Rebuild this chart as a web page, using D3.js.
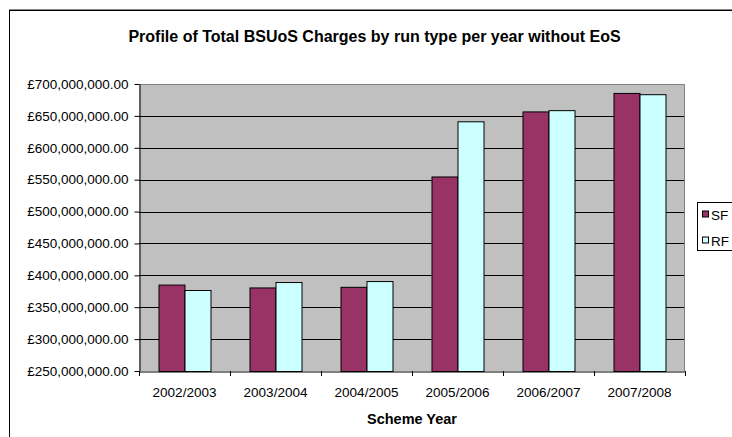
<!DOCTYPE html>
<html>
<head>
<meta charset="utf-8">
<script src="https://cdn.jsdelivr.net/npm/d3@7"></script>
<style>
  html, body { margin: 0; padding: 0; background: #fff; overflow: hidden; }
  svg { display: block; font-family: "Liberation Sans", Arial, sans-serif; }
</style>
</head>
<body>
<svg id="chart" width="732" height="437"></svg>
<script>
// Scheme years on the category axis
const years = ["2002/2003", "2003/2004", "2004/2005", "2005/2006", "2006/2007", "2007/2008"];
// Series names shown in the legend
const seriesNames = ["SF", "RF"];
// Total BSUoS charges (GBP) per run type
const sfValues = [385.5e6, 381e6, 382e6, 555e6, 657e6, 686e6];
const rfValues = [377e6, 389.5e6, 391e6, 641.5e6, 659e6, 684e6];
// Value axis ticks
const yTicks = [250e6, 300e6, 350e6, 400e6, 450e6, 500e6, 550e6, 600e6, 650e6, 700e6];

const seriesColors = ["#993366", "#CCFFFF"];
const series = [sfValues, rfValues];

const svg = d3.select("#chart");
const plot = { left: 139, right: 685, top: 84, bottom: 371 };

// Outer chart frame (left and top edges)
svg.append("rect")
  .attr("x", 9.5).attr("y", 10.5)
  .attr("width", 800).attr("height", 500)
  .attr("fill", "#fff").attr("stroke", "#000").attr("stroke-width", 1);
svg.append("line")
  .attr("x1", 9).attr("x2", 732).attr("y1", 9.5).attr("y2", 9.5)
  .attr("stroke", "#888").attr("stroke-width", 1);

// Title
svg.append("text")
  .attr("x", 374.5).attr("y", 42)
  .attr("text-anchor", "middle")
  .attr("font-size", "16px").attr("font-weight", "bold")
  .text("Profile of Total BSUoS Charges by run type per year without EoS");

const x = d3.scaleBand().domain(years).range([plot.left, plot.right]).padding(0);
const xInner = d3.scaleBand().domain(seriesNames).range([0, x.bandwidth()])
  .paddingInner(0).paddingOuter(0.75);
const y = d3.scaleLinear().domain([250e6, 700e6]).range([plot.bottom, plot.top]);

// Plot area background
svg.append("rect")
  .attr("x", plot.left).attr("y", plot.top)
  .attr("width", plot.right - plot.left).attr("height", plot.bottom - plot.top)
  .attr("fill", "#C0C0C0");

// Horizontal gridlines
svg.append("g").selectAll("line")
  .data(yTicks.slice(1, -1))
  .join("line")
  .attr("x1", plot.left).attr("x2", plot.right)
  .attr("y1", d => Math.round(y(d)) + 0.5).attr("y2", d => Math.round(y(d)) + 0.5)
  .attr("stroke", "#000").attr("stroke-width", 1);

// Plot area border (top and right)
svg.append("path")
  .attr("d", `M${plot.left},${plot.top + 0.5}H${plot.right - 0.5}V${plot.bottom}`)
  .attr("fill", "none").attr("stroke", "#808080").attr("stroke-width", 1);

// Bars
const groups = svg.append("g").selectAll("g")
  .data(years)
  .join("g")
  .attr("transform", d => `translate(${x(d)},0)`);

groups.selectAll("rect")
  .data((d, i) => seriesNames.map((s, k) => ({ s, v: series[k][i], k })))
  .join("rect")
  .attr("x", d => xInner(d.s) + 0.5)
  .attr("width", xInner.bandwidth())
  .attr("y", d => y(d.v) + 0.5)
  .attr("height", d => plot.bottom - y(d.v))
  .attr("fill", d => seriesColors[d.k])
  .attr("stroke", "#000").attr("stroke-width", 1);

// Value axis
const fmt = v => "£" + d3.format(",.2f")(v);
svg.append("g")
  .attr("transform", `translate(${plot.left + 0.5},0)`)
  .call(d3.axisLeft(y).tickValues(yTicks).tickFormat(fmt).tickSize(5).tickPadding(6).tickSizeOuter(0))
  .call(g => g.selectAll("text").attr("font-size", "13.5px").attr("font-family", "inherit").attr("fill", "#000"))
  .call(g => g.selectAll("line, path").attr("stroke", "#000"));

// Category axis
svg.append("g")
  .attr("transform", `translate(0,${plot.bottom + 0.5})`)
  .call(d3.axisBottom(x).tickSize(0).tickPadding(16).tickSizeOuter(0))
  .call(g => g.selectAll("text").attr("font-size", "13.5px").attr("font-family", "inherit").attr("fill", "#000"))
  .call(g => g.select(".domain").attr("stroke", "#000"));

// Tick marks on category boundaries
svg.append("g").selectAll("line")
  .data(years.concat(["end"]))
  .join("line")
  .attr("x1", (d, i) => Math.round(plot.left + i * x.step()) + 0.5)
  .attr("x2", (d, i) => Math.round(plot.left + i * x.step()) + 0.5)
  .attr("y1", plot.bottom).attr("y2", plot.bottom + 5)
  .attr("stroke", "#000");

// Axis title
svg.append("text")
  .attr("x", (plot.left + plot.right) / 2).attr("y", 423.5)
  .attr("text-anchor", "middle")
  .attr("font-size", "14.5px").attr("font-weight", "bold")
  .text("Scheme Year");

// Legend
const legend = svg.append("g").attr("transform", "translate(697.5,202.5)");
legend.append("rect")
  .attr("width", 60).attr("height", 48)
  .attr("fill", "#fff").attr("stroke", "#000");
const items = legend.selectAll("g.item")
  .data(seriesNames)
  .join("g").attr("class", "item")
  .attr("transform", (d, i) => `translate(5,${8.5 + i * 26})`);
items.append("rect")
  .attr("width", 6).attr("height", 6)
  .attr("fill", (d, i) => seriesColors[i]).attr("stroke", "#000");
items.append("text")
  .attr("x", 8.5).attr("y", 9)
  .attr("font-size", "13.5px")
  .text(d => d);
</script>
</body>
</html>
